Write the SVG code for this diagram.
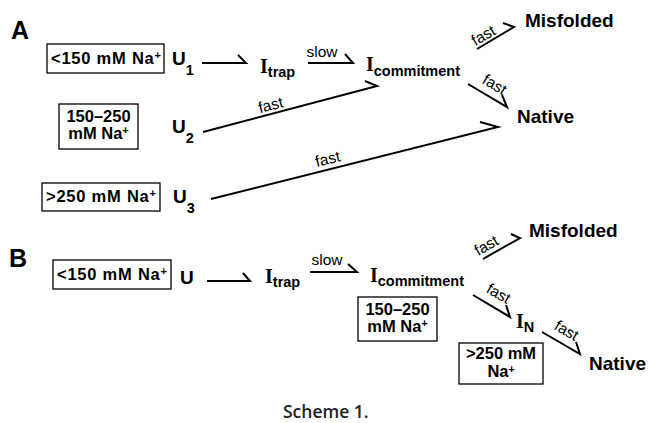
<svg xmlns="http://www.w3.org/2000/svg" width="649" height="423" viewBox="0 0 649 423">
<style>
.bg{fill:#fff}
.box{fill:none;stroke:#000;stroke-width:1.3}
.lbl{font-family:"Liberation Sans",Arial,sans-serif;font-weight:bold;font-size:16.5px;fill:#000}
.u{font-family:"Liberation Sans",Arial,sans-serif;font-weight:bold;font-size:19px;fill:#000}
.sub{font-family:"Liberation Sans",Arial,sans-serif;font-weight:bold;font-size:14.5px;fill:#000}
.serif{font-family:"Liberation Serif","Times New Roman",serif;font-weight:bold;font-size:20px;fill:#000}
.big{font-family:"Liberation Sans",Arial,sans-serif;font-weight:bold;font-size:19px;fill:#000}
.panel{font-family:"Liberation Sans",Arial,sans-serif;font-weight:bold;font-size:25px;fill:#000}
.rate{font-family:"Liberation Sans",Arial,sans-serif;font-size:15.5px;fill:#000}
.cap{font-family:"Open Sans","Liberation Sans",sans-serif;font-weight:600;font-size:17.5px;fill:#222}
.arr{fill:none;stroke:#000;stroke-width:2;stroke-linejoin:miter;stroke-linecap:butt}
</style>
<rect class="bg" x="0" y="0" width="649" height="423"/>

<text class="panel" x="11" y="39">A</text>
<text class="panel" x="9" y="267">B</text>

<g id="connectors">
  <path class="arr" d="M202 63 L246 63 L238 55"/>
  <path class="arr" d="M308 63 L353 63 L345 54"/>
  <path class="arr" d="M203 132 L377 86 L365 81"/>
  <path class="arr" d="M211 199 L498 127 L480 122"/>
  <path class="arr" d="M477 49 L514 27 L503 23"/>
  <path class="arr" d="M468 84 L507 107 L502 95"/>
  <path class="arr" d="M207 281 L250 281 L243 273"/>
  <path class="arr" d="M310 272 L357 272 L348 264"/>
  <path class="arr" d="M483 259 L520 238 L511 234"/>
  <path class="arr" d="M473 295 L510 317 L506 305"/>
  <path class="arr" d="M542 332 L580 354 L576 342"/>
  <text class="rate" x="322" y="57" text-anchor="middle">slow</text>
  <text class="rate" x="272" y="110" text-anchor="middle" transform="rotate(-15 272 110)">fast</text>
  <text class="rate" x="329" y="164" text-anchor="middle" transform="rotate(-14 329 164)">fast</text>
  <text class="rate" x="486" y="40" text-anchor="middle" transform="rotate(-30 486 40)">fast</text>
  <text class="rate" x="492" y="89" text-anchor="middle" transform="rotate(31 492 89)">fast</text>
  <text class="rate" x="327" y="265" text-anchor="middle">slow</text>
  <text class="rate" x="489" y="250" text-anchor="middle" transform="rotate(-30 489 250)">fast</text>
  <text class="rate" x="496" y="298" text-anchor="middle" transform="rotate(30 496 298)">fast</text>
  <text class="rate" x="564" y="335" text-anchor="middle" transform="rotate(30 564 335)">fast</text>
</g>

<g id="condA1">
  <rect class="box" x="47" y="44" width="117" height="29"/>
  <text class="lbl" x="51" y="64" textLength="110">&lt;150 mM Na<tspan font-size="11" dy="-5">+</tspan></text>
</g>
<g id="U1"><text class="u" x="172" y="65">U<tspan class="sub" font-size="16" dy="10">1</tspan></text></g>
<g id="condA2">
  <rect class="box" x="59" y="104" width="79" height="45"/>
  <text class="lbl" x="98.5" y="122" text-anchor="middle">150–250</text>
  <text class="lbl" x="98.5" y="139" text-anchor="middle">mM Na<tspan font-size="11" dy="-5">+</tspan></text>
</g>
<g id="U2"><text class="u" x="172" y="133">U<tspan class="sub" font-size="16" dy="10">2</tspan></text></g>
<g id="condA3">
  <rect class="box" x="42" y="183" width="118" height="28"/>
  <text class="lbl" x="46" y="202" textLength="110">&gt;250 mM Na<tspan font-size="11" dy="-5">+</tspan></text>
</g>
<g id="U3"><text class="u" x="173" y="203">U<tspan class="sub" font-size="16" dy="10">3</tspan></text></g>
<g id="ItrapA"><text class="serif" x="260" y="73">I<tspan class="sub" dy="4">trap</tspan></text></g>
<g id="IcommitA"><text class="serif" x="366" y="71">I<tspan class="sub" dy="5">commitment</tspan></text></g>
<g id="MisfoldedA"><text class="big" x="525" y="27">Misfolded</text></g>
<g id="NativeA"><text class="big" x="517" y="123">Native</text></g>

<g id="condB1">
  <rect class="box" x="53" y="260" width="118" height="29"/>
  <text class="lbl" x="57" y="280" textLength="110">&lt;150 mM Na<tspan font-size="11" dy="-5">+</tspan></text>
</g>
<g id="UB"><text class="u" x="180" y="284">U</text></g>
<g id="ItrapB"><text class="serif" x="265" y="283">I<tspan class="sub" dy="4">trap</tspan></text></g>
<g id="IcommitB"><text class="serif" x="370" y="282">I<tspan class="sub" dy="4">commitment</tspan></text></g>
<g id="condB2">
  <rect class="box" x="358" y="297" width="79" height="44"/>
  <text class="lbl" x="397.5" y="315" text-anchor="middle">150–250</text>
  <text class="lbl" x="397.5" y="332" text-anchor="middle">mM Na<tspan font-size="11" dy="-5">+</tspan></text>
</g>
<g id="MisfoldedB"><text class="big" x="529" y="237">Misfolded</text></g>
<g id="IN"><text class="serif" x="516" y="328">I<tspan class="sub" dy="4">N</tspan></text></g>
<g id="condB3">
  <rect class="box" x="459" y="343" width="84" height="41"/>
  <text class="lbl" x="501" y="359" text-anchor="middle">&gt;250 mM</text>
  <text class="lbl" x="501" y="377" text-anchor="middle">Na<tspan font-size="10.5" dy="-4.5">+</tspan></text>
</g>
<g id="NativeB"><text class="big" x="589" y="370">Native</text></g>

<text class="cap" x="283" y="418">Scheme 1.</text>
</svg>
